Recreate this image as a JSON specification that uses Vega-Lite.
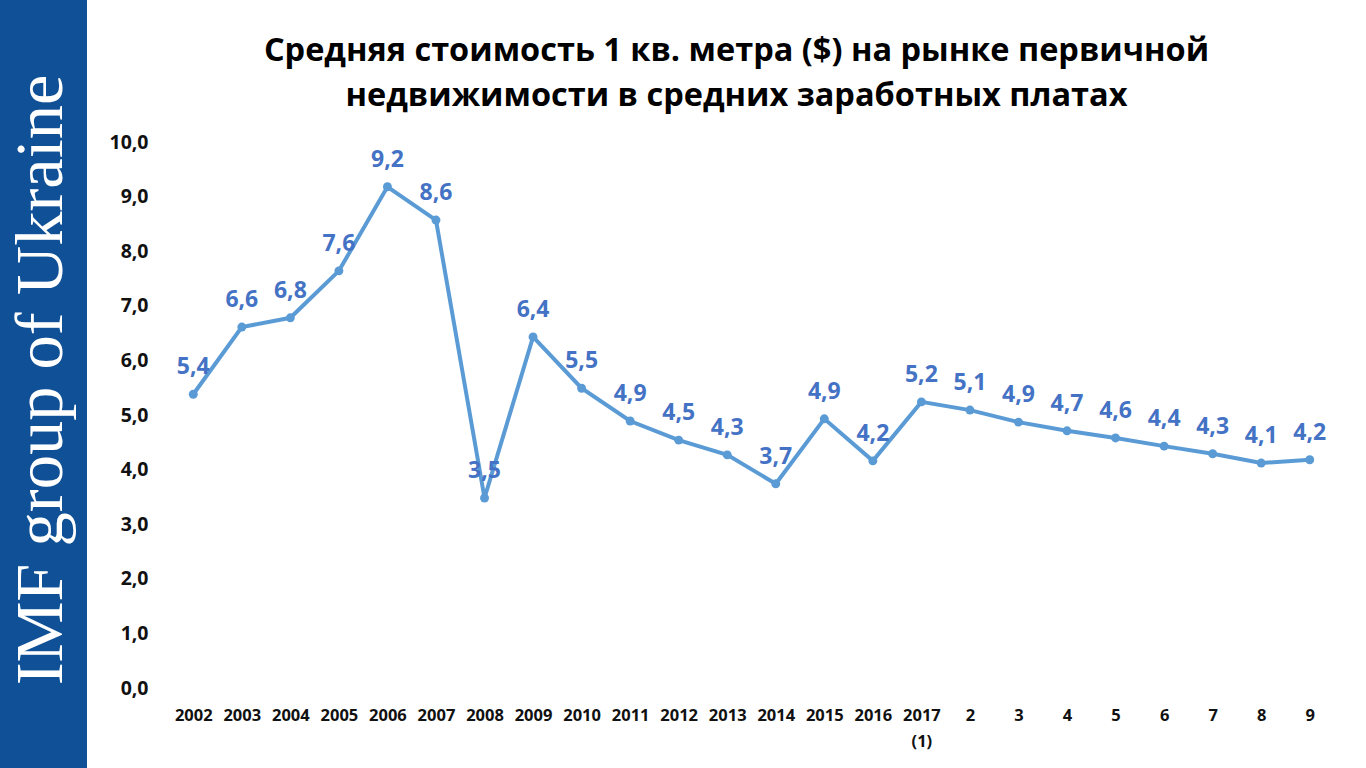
{
  "$schema": "https://vega.github.io/schema/vega-lite/v6.json",
  "padding": 0,
  "autosize": {"type": "pad"},
  "background": "white",
  "spacing": 0,
  "config": {
    "view": {"stroke": null},
    "locale": {"number": {"decimal": ",", "thousands": " ", "grouping": [3], "currency": ["", "$"]}}
  },
  "hconcat": [
    {
      "width": 87,
      "height": 768,
      "view": {"fill": "#0f5096", "stroke": null},
      "data": {"values": [{"label": "IMF group of Ukraine"}]},
      "mark": {"type": "text", "angle": 270, "font": "Liberation Serif", "fontSize": 68.5, "color": "white", "baseline": "middle", "align": "center", "dx": 4, "dy": -3},
      "encoding": {"text": {"field": "label", "type": "nominal"}}
    },
    {
      "spacing": 0,
      "vconcat": [
        {
          "width": 1165,
          "height": 132,
          "data": {"values": [{"title": "Средняя стоимость 1 кв. метра ($) на рынке первичной\nнедвижимости в средних заработных платах"}]},
          "mark": {"type": "text", "font": "Open Sans", "fontSize": 32.5, "fontWeight": "bold", "color": "#000000", "lineBreak": "\n", "lineHeight": 45, "align": "center", "baseline": "top", "dx": -15, "dy": -31},
          "encoding": {"text": {"field": "title", "type": "nominal"}}
        },
        {
          "width": 1165,
          "height": 546,
          "data": {"values": [
            {"period": "2002", "value": 5.38},
            {"period": "2003", "value": 6.61},
            {"period": "2004", "value": 6.78},
            {"period": "2005", "value": 7.64},
            {"period": "2006", "value": 9.18},
            {"period": "2007", "value": 8.57},
            {"period": "2008", "value": 3.48},
            {"period": "2009", "value": 6.43},
            {"period": "2010", "value": 5.49},
            {"period": "2011", "value": 4.89},
            {"period": "2012", "value": 4.54},
            {"period": "2013", "value": 4.27},
            {"period": "2014", "value": 3.74},
            {"period": "2015", "value": 4.93},
            {"period": "2016", "value": 4.16},
            {"period": "2017 (1)", "value": 5.24},
            {"period": "2", "value": 5.09},
            {"period": "3", "value": 4.87},
            {"period": "4", "value": 4.71},
            {"period": "5", "value": 4.58},
            {"period": "6", "value": 4.43},
            {"period": "7", "value": 4.29},
            {"period": "8", "value": 4.12},
            {"period": "9", "value": 4.18}
          ]},
          "encoding": {
            "x": {
              "field": "period",
              "type": "ordinal",
              "sort": null,
              "scale": {"type": "point", "padding": 0.5},
              "axis": {
                "title": null,
                "domain": false,
                "ticks": false,
                "labelAngle": 0,
                "labelOverlap": false,
                "labelFont": "Open Sans",
                "labelFontWeight": "bold",
                "labelFontSize": 16.5,
                "labelColor": "#111111",
                "labelPadding": 19,
                "labelLineHeight": 26,
                "labelExpr": "datum.value == '2017 (1)' ? ['2017', '(1)'] : datum.value"
              }
            },
            "y": {
              "field": "value",
              "type": "quantitative",
              "scale": {"domain": [0, 10], "nice": false},
              "axis": {
                "title": null,
                "domain": false,
                "ticks": false,
                "grid": false,
                "values": [0, 1, 2, 3, 4, 5, 6, 7, 8, 9, 10],
                "format": ".1f",
                "labelFont": "Open Sans",
                "labelFontWeight": "bold",
                "labelFontSize": 19.5,
                "labelColor": "#111111",
                "labelPadding": 21,
                "minExtent": 82,
                "maxExtent": 82
              }
            }
          },
          "layer": [
            {"mark": {"type": "line", "color": "#5b9bd5", "strokeWidth": 4}},
            {"mark": {"type": "point", "filled": true, "opacity": 1, "color": "#5b9bd5", "size": 80}},
            {
              "mark": {"type": "text", "font": "Open Sans", "fontWeight": "bold", "fontSize": 23, "color": "#4472c4", "dy": -27, "baseline": "middle"},
              "encoding": {"text": {"field": "value", "type": "quantitative", "format": ".1f"}}
            }
          ]
        }
      ]
    }
  ]
}
